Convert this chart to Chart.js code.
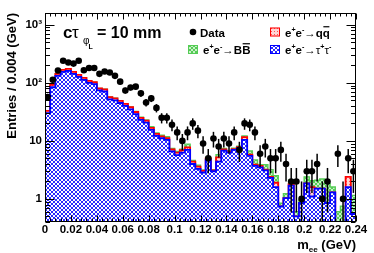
<!DOCTYPE html>
<html>
<head>
<meta charset="utf-8">
<script src="https://cdn.jsdelivr.net/npm/chart.js@4.4.0/dist/chart.umd.min.js"></script>
<style>
  html, body { margin: 0; padding: 0; background: #fff; }
  #wrap { width: 374px; height: 253px; position: relative; }
</style>
</head>
<body>
<div id="wrap"><canvas id="mee"></canvas></div>
<script>
// m_ee histogram, 60 bins of 0.004 GeV
const binWidth = 0.004;
const nBins = 60;
const xTickValues = [0, 0.02, 0.04, 0.06, 0.08, 0.1, 0.12, 0.14, 0.16, 0.18, 0.2, 0.22, 0.24];
const yTickValues = [1, 10, 100, 1000];
const yTickLabels = ['1', '10', '10²', '10³'];

const dataCounts = [57,113,163,240,225,215,240,165,180,180, 143,157,151,132,105,74,83,86,66,46,
  54,37,25,25,19,14,10,14,20,15, 9,5,11,8,11,9,14,7,20,19,
  14,6,8,5,5,7,4,2,2,1, 3,3,4,1,2,null,6,1,5,3];
const tautau = [30,84,132,155,161,143,127,113,100,95, 74,71,52,50,45,40,35,29,23,20.7,
  15.5,12.2,11.1,10.4,6.6,5.7,6.3,7.0,4.0,3.3, 2.85,4.7,3.0,4.4,6.8,6.3,7.0,7.5,10.4,5.5,
  3.7,3.5,3.1,2.3,1.6,0.74,1.03,1.7,0.5,0.85, 1.85,1.1,1.5,1.5,0.85,1.3,0,0,1.6,0.55];
const qqbar = [3,8,11,13,13,12,10,9,8,7.5, 6,6,4.5,4,3.8,3.3,3,2.5,2,1.7,
  1.3,1,0.9,0.8,0.5,0.6,0.6,0.7,0.4,0.3, 0.2,0.3,0.1,0.8,0.3,0.2,0.2,0.3,1.2,0.3,
  0.2,0.2,0.1,0.1,0.3,0,0,0.1,0,0, 0,0.5,0,0,0,0,0,0,0.8,0];
const bbbar = [0,0.3,0.5,0.5,0.5,0.5,0.5,0.5,0.5,0.5, 0.5,0.5,0.5,0.5,0.6,0.5,0.6,0.6,0.5,0.6,
  0.8,0.5,0.5,0.6,0.3,0.3,0.3,1.1,0.2,0.2, 0.1,0.2,0.1,0.6,0.3,0.3,0.3,0.3,0.6,0.9,
  0.8,0.2,0.7,0.8,0.6,0.1,0.2,0.3,0.1,0.1, 0.55,0.45,0.6,0.7,1.0,0.3,0.6,0.75,0,0.6];

const FONT = '"Liberation Sans", Arial, Helvetica, sans-serif';

// stacked tops: tau, tau+qq, tau+qq+bb
const stackTau = tautau.slice();
const stackQQ = tautau.map((v, i) => v + qqbar[i]);
const stackBB = stackQQ.map((v, i) => v + bbbar[i]);

function steps(tops) {
  const pts = tops.map((v, i) => ({ x: i * binWidth, y: Math.max(v, 1e-3) }));
  pts.push({ x: nBins * binWidth, y: Math.max(tops[nBins - 1], 1e-3) });
  return pts;
}

function pattern(size, fg, bg, cells) {
  const c = document.createElement('canvas');
  c.width = c.height = size;
  const g = c.getContext('2d');
  g.fillStyle = bg; g.fillRect(0, 0, size, size);
  g.fillStyle = fg;
  cells.forEach(([px, py]) => g.fillRect(px, py, 1, 1));
  return g.createPattern(c, 'repeat');
}
const xCells = [[0,0],[1,1],[2,2],[3,3],[0,3],[1,2],[2,1],[3,0]];
const bluePat = pattern(4, '#2a2aff', '#ffffff', xCells);
const greenPat = pattern(4, '#55cc55', '#c9f0c9', xCells);
const redPat = pattern(3, '#ff5050', '#ffd6d6', [[1,1]]);

const dataPoints = dataCounts.map((n, i) => ({ x: (i + 0.5) * binWidth, y: n }));

// draw text with sup/sub/overline pieces
function rich(ctx, x, y, parts, size) {
  let cx = x;
  ctx.textBaseline = 'alphabetic';
  ctx.textAlign = 'left';
  for (const [t, k] of parts) {
    const small = k === 'sup' || k === 'sub';
    const s = small ? size * 0.62 : size;
    const weight = (k === 'sym') ? 'normal' : 'bold';
    ctx.font = weight + ' ' + s + 'px ' + FONT;
    const dy = k === 'sup' ? -size * 0.42 : k === 'sub' ? size * 0.25 : 0;
    ctx.fillText(t, cx, y + dy);
    const w = ctx.measureText(t).width;
    if (k === 'over') ctx.fillRect(cx + 0.5, y - size * 0.9, w - 1, 1.2);
    cx += w;
  }
  return cx;
}

const histFrame = {
  id: 'histFrame',
  afterDatasetsDraw(chart) {
    const { ctx, chartArea: a, scales: { x, y } } = chart;
    ctx.save();
    // error bars
    ctx.beginPath(); ctx.rect(a.left, a.top, a.width, a.height); ctx.clip();
    ctx.strokeStyle = '#000'; ctx.lineWidth = 1.5;
    dataCounts.forEach((n, i) => {
      if (n == null) return;
      const e = Math.sqrt(n);
      const px = x.getPixelForValue((i + 0.5) * binWidth);
      const lo = n - e > 0 ? y.getPixelForValue(n - e) : a.bottom;
      const hi = y.getPixelForValue(n + e);
      ctx.beginPath(); ctx.moveTo(px, lo); ctx.lineTo(px, hi); ctx.stroke();
    });
    ctx.restore();

    // frame + inward ticks
    ctx.save();
    ctx.strokeStyle = '#000'; ctx.lineWidth = 1;
    const L = Math.round(a.left) + 0.5, R = Math.round(a.right) - 0.5;
    const T = Math.round(a.top) + 0.5, B = Math.round(a.bottom) - 0.5;
    ctx.strokeRect(L, T, R - L, B - T);
    ctx.beginPath();
    for (let j = 0; j <= nBins; j++) {
      const v = j * binWidth;
      const px = Math.round(x.getPixelForValue(v)) + 0.5;
      const len = (j % 5 === 0) ? 6 : 3;
      ctx.moveTo(px, B); ctx.lineTo(px, B - len);
      ctx.moveTo(px, T); ctx.lineTo(px, T + len);
    }
    for (let d = -1; d <= 3; d++) {
      for (let k = 1; k <= 9; k++) {
        const v = k * Math.pow(10, d);
        if (v < y.min || v > y.max) continue;
        const py = Math.round(y.getPixelForValue(v)) + 0.5;
        const len = k === 1 ? 9 : 4.5;
        ctx.moveTo(L, py); ctx.lineTo(L + len, py);
        ctx.moveTo(R, py); ctx.lineTo(R - len, py);
      }
    }
    ctx.stroke();
    ctx.restore();
  },
  afterDraw(chart) {
    const { ctx } = chart;
    ctx.save();
    ctx.fillStyle = '#000';
    // c tau_{phi_L} = 10 mm
    ctx.font = 'bold 17px ' + FONT;
    ctx.textBaseline = 'alphabetic';
    ctx.fillText('c', 63, 38);
    ctx.font = 'normal 17px ' + FONT;
    ctx.fillText('τ', 72, 38);
    ctx.font = 'normal 10px ' + FONT;
    ctx.fillText('φ', 83, 44);
    ctx.font = 'bold 7px ' + FONT;
    ctx.fillText('L', 88.5, 49);
    ctx.font = 'bold 16px ' + FONT;
    ctx.fillText('= 10 mm', 97, 38);

    // legend
    ctx.beginPath(); ctx.arc(193, 32, 3.3, 0, Math.PI * 2); ctx.fill();
    ctx.font = 'bold 11.5px ' + FONT;
    ctx.fillText('Data', 200, 36.5);

    const box = (bx, by, fill, stroke) => {
      ctx.fillStyle = fill; ctx.fillRect(bx, by, 10, 9);
      ctx.strokeStyle = stroke; ctx.lineWidth = 1; ctx.strokeRect(bx + 0.5, by + 0.5, 9, 8);
      ctx.fillStyle = '#000';
    };
    box(270, 27.5, redPat, '#ff0000');
    box(188, 45, greenPat, '#55cc55');
    box(270, 45, bluePat, '#0000ff');
    const ee = [['e'], ['+', 'sup'], ['e'], ['-', 'sup'], ['→', 'sym']];
    rich(ctx, 285, 36.5, ee.concat([['q'], ['q', 'over']]), 11.5);
    rich(ctx, 203, 53.5, ee.concat([['B'], ['B', 'over']]), 11.5);
    rich(ctx, 285, 53.5, ee.concat([['τ', 'sym'], ['+', 'sup'], ['τ', 'sym'], ['-', 'sup']]), 11.5);

    // x title m_ee (GeV), right aligned to frame
    const parts = [['m'], ['ee', 'sub'], [' (GeV)']];
    ctx.font = 'bold 13px ' + FONT;
    let w = ctx.measureText('m').width + ctx.measureText(' (GeV)').width;
    ctx.font = 'bold ' + (13 * 0.62) + 'px ' + FONT;
    w += ctx.measureText('ee').width;
    rich(ctx, chart.chartArea.right - w, 248.5, parts, 13);
    ctx.restore();
  }
};

new Chart(document.getElementById('mee'), {
  type: 'line',
  data: {
    datasets: [
      { type: 'scatter', label: 'Data', data: dataPoints, pointRadius: 3.3, pointHoverRadius: 3.3,
        backgroundColor: '#000', borderColor: '#000', borderWidth: 0 },
      { label: 'tautau', data: steps(stackTau), stepped: 'before', pointRadius: 0,
        borderColor: '#0000ff', borderWidth: 1.8, backgroundColor: bluePat, fill: 'start' },
      { label: 'qq', data: steps(stackQQ), stepped: 'before', pointRadius: 0,
        borderColor: '#ff0000', borderWidth: 1.8, backgroundColor: redPat, fill: 'start' },
      { label: 'BB', data: steps(stackBB), stepped: 'before', pointRadius: 0,
        borderColor: '#55cc55', borderWidth: 1.4, backgroundColor: greenPat, fill: 'start' }
    ]
  },
  options: {
    responsive: true, maintainAspectRatio: false, animation: false,
    layout: { padding: { left: 0, right: 18, top: 13, bottom: 0 } },
    plugins: { legend: { display: false }, tooltip: { enabled: false } },
    scales: {
      x: {
        type: 'linear', min: 0, max: nBins * binWidth,
        afterBuildTicks: s => { s.ticks = xTickValues.map(v => ({ value: v })); },
        afterFit: s => { s.height = 31; },
        grid: { display: false, drawTicks: false }, border: { display: false },
        ticks: { color: '#000', padding: 1, maxRotation: 0, autoSkip: false,
          font: { family: FONT, weight: 'bold', size: 11.5 },
          callback: v => String(Number(v.toFixed(2))) }
      },
      y: {
        type: 'logarithmic', min: 0.4, max: 1600,
        afterBuildTicks: s => { s.ticks = yTickValues.map(v => ({ value: v })); },
        afterFit: s => { s.width = 45; },
        grid: { display: false, drawTicks: false }, border: { display: false },
        ticks: { color: '#000', padding: 3, font: { family: FONT, weight: 'bold', size: 11.5 },
          callback: (v, i) => yTickLabels[i] },
        title: { display: true, text: 'Entries / 0.004 (GeV)', align: 'end', color: '#000',
          padding: { top: 5, bottom: 0 }, font: { family: FONT, weight: 'bold', size: 13 } }
      }
    }
  },
  plugins: [histFrame]
});
</script>
</body>
</html>
